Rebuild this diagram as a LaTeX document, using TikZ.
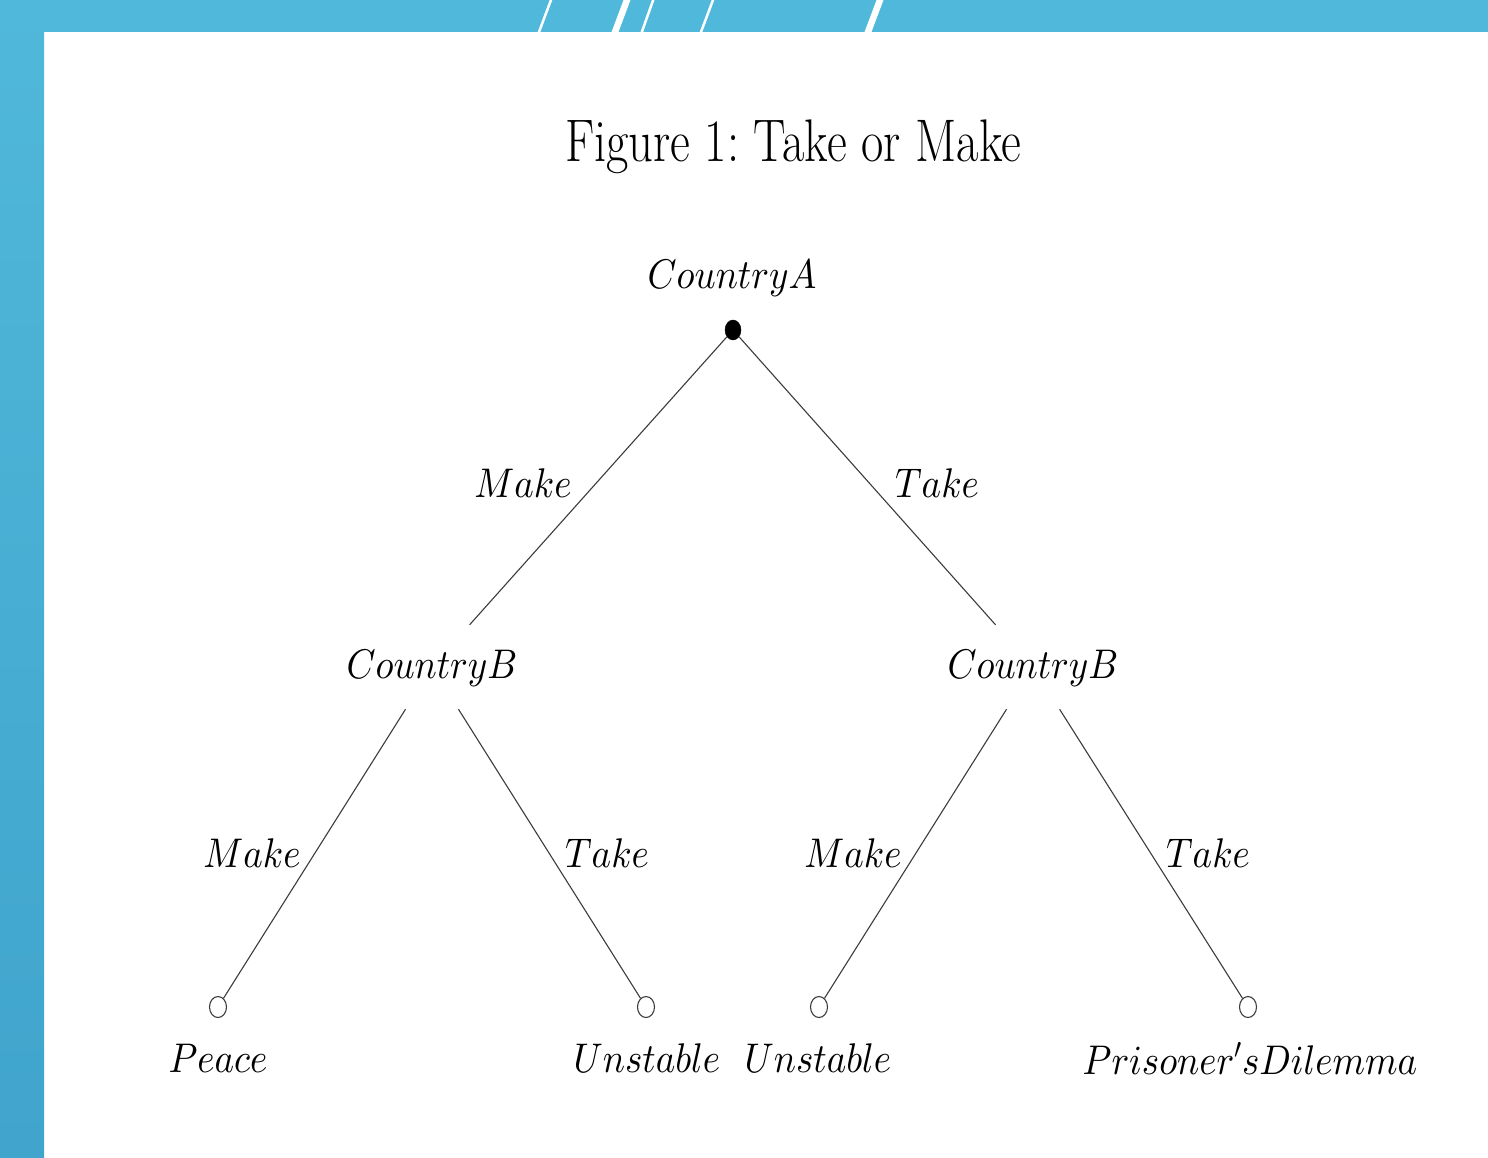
\RequirePackage{fix-cm}
\documentclass[tikz,border=0pt]{standalone}
\usetikzlibrary{shapes.geometric}
\DeclareFontShape{OML}{cmm}{m}{it}{<->cmmi10}{\skewchar\font'177}
\definecolor{barblue}{RGB}{80,184,218}
\definecolor{barblueD}{RGB}{64,164,204}
\definecolor{edgegray}{RGB}{60,60,60}
\newcommand{\mlab}[1]{\scalebox{1}[1.12]{$#1$}}
\begin{document}
\begin{tikzpicture}[x=1pt,y=-1pt,
  edge/.style={draw=edgegray, line width=1.1pt},
  lbl/.style={font=\fontsize{37}{44}\selectfont, inner sep=0pt, anchor=base},
  player/.style={lbl, text height=53pt, text depth=31pt},
  dotnode/.style={ellipse, fill=black, draw=black, minimum width=16pt, minimum height=20pt, inner sep=0pt},
  leaf/.style={ellipse, draw=edgegray, line width=1.1pt, fill=white, minimum width=17pt, minimum height=21pt, inner sep=0pt},
  slash/.style={white, line width=#1}
]
\useasboundingbox (0,0) rectangle (1488,1158);
% background
\fill[white] (0,0) rectangle (1488,1158);
\shade[top color=barblue, bottom color=barblueD] (0,0) rectangle (44,1158);
\begin{scope}
  \clip (0,0) rectangle (1488,32);
  \fill[barblue] (0,0) rectangle (1488,32);
  \draw[slash=2.5pt] (536,40) -- (554,-8);
  \draw[slash=6.5pt] (612,40) -- (630,-8);
  \draw[slash=2.5pt] (639,40) -- (656,-8);
  \draw[slash=2.5pt] (698,40) -- (716,-8);
  \draw[slash=6.5pt] (865,40) -- (883,-8);
\end{scope}
% title
\node[inner sep=0pt, anchor=base, font=\fontsize{48.5}{56}\selectfont] (title) at (793,162)
  {\scalebox{1}[1.24]{Figure 1:\ Take or Make}};
% tree
\node[lbl] (ca) at (732,288) {\mlab{CountryA}};
\node[dotnode] (r) at (733,330) {};
\node[player] (bL) at (432,678) {\mlab{CountryB}};
\node[player] (bR) at (1033,678) {\mlab{CountryB}};
\node[leaf] (l1) at (218,1007) {};
\node[leaf] (l2) at (646,1007) {};
\node[leaf] (l3) at (819,1007) {};
\node[leaf] (l4) at (1248,1007) {};
\draw[edge] (r) -- (bL);
\draw[edge] (r) -- (bR);
\draw[edge] (bL) -- (l1);
\draw[edge] (bL) -- (l2);
\draw[edge] (bR) -- (l3);
\draw[edge] (bR) -- (l4);
% edge labels
\node[lbl] (m1) at (523,497) {\mlab{Make}};
\node[lbl] (t1) at (937,497) {\mlab{Take}};
\node[lbl] (m2) at (252,867) {\mlab{Make}};
\node[lbl] (t2) at (607,867) {\mlab{Take}};
\node[lbl] (m3) at (853,867) {\mlab{Make}};
\node[lbl] (t3) at (1208,867) {\mlab{Take}};
% payoffs
\node[lbl] (p1) at (218,1072) {\mlab{Peace}};
\node[lbl] (p2) at (647,1072) {\mlab{Unstable}};
\node[lbl] (p3) at (818,1072) {\mlab{Unstable}};
\node[lbl] (p4) at (1250,1074) {\mlab{Prisoner's Dilemma}};
\end{tikzpicture}
\end{document}
